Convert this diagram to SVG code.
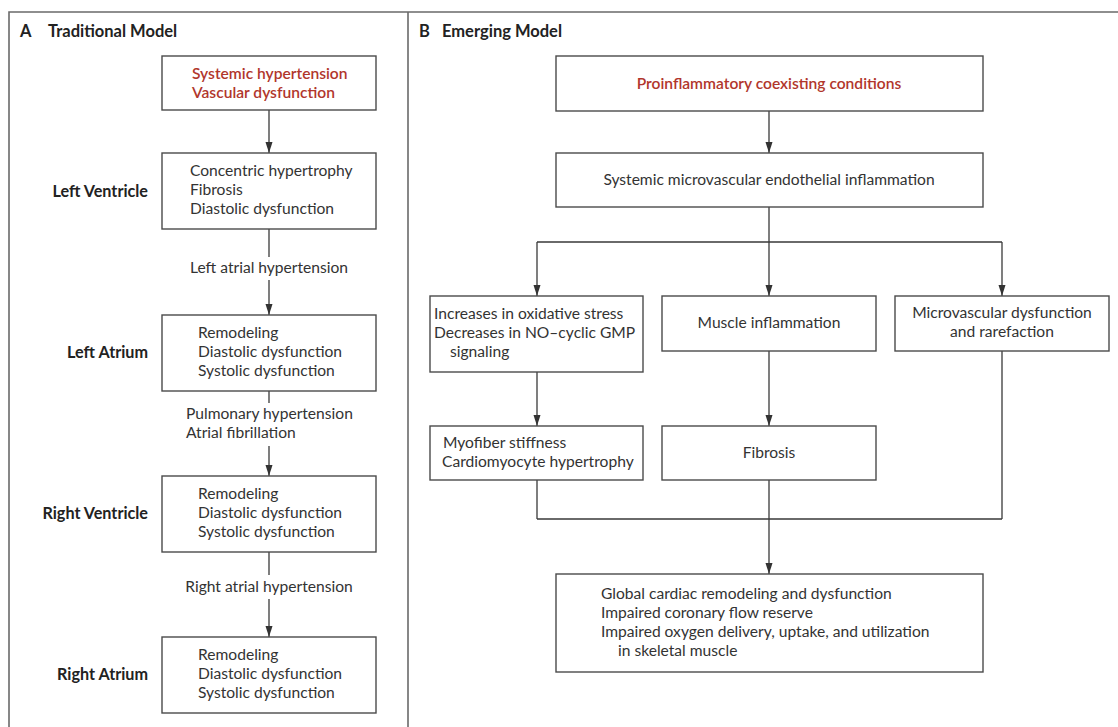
<svg xmlns="http://www.w3.org/2000/svg" width="1118" height="727" viewBox="0 0 1118 727">
<defs>
<marker id="ah" markerUnits="userSpaceOnUse" markerWidth="12" markerHeight="10" refX="11" refY="5" orient="auto" viewBox="0 0 12 10">
<path d="M0,1.5 L11,5 L0,8.5 Z" fill="#333"/>
</marker>
<style>
.frame{fill:none;stroke:#6a6a6a;stroke-width:1.6}
.box{fill:#fff;stroke:#4a4a4a;stroke-width:1.4}
.t{font-family:Lato,"Liberation Sans",sans-serif;font-size:15.6px;fill:#333}
.red{font-family:Lato,"Liberation Sans",sans-serif;font-size:15.6px;fill:#b1362c;font-weight:600}
.lab{font-family:Lato,"Liberation Sans",sans-serif;font-size:16.2px;fill:#222;font-weight:700}
.ttl{font-family:Lato,"Liberation Sans",sans-serif;font-size:16.5px;fill:#222;font-weight:700}
.c{text-anchor:middle}
.r{text-anchor:end}
.ln{fill:none;stroke:#3a3a3a;stroke-width:1.3}
.ar{fill:none;stroke:#3a3a3a;stroke-width:1.3;marker-end:url(#ah)}
</style>
</defs>
<rect width="1118" height="727" fill="#fff"/>
<g id="frame">
<path class="frame" d="M9,727 V12 H1118 M408,12 V727"/>
<text class="ttl" x="20" y="37">A</text>
<text class="ttl" x="48" y="37">Traditional Model</text>
<text class="ttl" x="419" y="37">B</text>
<text class="ttl" x="442" y="37">Emerging Model</text>
</g>
<g id="connectors">
<path class="ar" d="M269,110 V153"/>
<path class="ln" d="M269,229 V257"/>
<path class="ar" d="M269,280 V315"/>
<path class="ln" d="M269,391 V403"/>
<path class="ar" d="M269,446 V476"/>
<path class="ln" d="M269,552 V575"/>
<path class="ar" d="M269,599 V637"/>
<path class="ar" d="M769,111 V153"/>
<path class="ln" d="M769,207 V242 M537,242 H1002"/>
<path class="ar" d="M537,242 V296"/>
<path class="ar" d="M769,242 V296"/>
<path class="ar" d="M1002,242 V296"/>
<path class="ar" d="M537,372 V426"/>
<path class="ar" d="M769,351 V426"/>
<path class="ln" d="M537,480 V519 M769,480 V519 M1002,351 V519 M537,519 H1002"/>
<path class="ar" d="M769,519 V574"/>
<text class="t c" x="269" y="273">Left atrial hypertension</text>
<text class="t" x="186" y="419">Pulmonary hypertension</text>
<text class="t" x="186" y="438">Atrial fibrillation</text>
<text class="t c" x="269" y="592">Right atrial hypertension</text>
</g>
<g id="a-top">
<rect class="box" x="162" y="56" width="214" height="54"/>
<text class="red" x="192" y="79">Systemic hypertension</text>
<text class="red" x="192" y="98">Vascular dysfunction</text>
</g>
<g id="a-lv">
<text class="lab r" x="148" y="197">Left Ventricle</text>
<rect class="box" x="162" y="153" width="214" height="76"/>
<text class="t" x="190" y="176">Concentric hypertrophy</text>
<text class="t" x="190" y="195">Fibrosis</text>
<text class="t" x="190" y="214">Diastolic dysfunction</text>
</g>
<g id="a-la">
<text class="lab r" x="148" y="358">Left Atrium</text>
<rect class="box" x="162" y="315" width="214" height="76"/>
<text class="t" x="198" y="338">Remodeling</text>
<text class="t" x="198" y="357">Diastolic dysfunction</text>
<text class="t" x="198" y="376">Systolic dysfunction</text>
</g>
<g id="a-rv">
<text class="lab r" x="148" y="519">Right Ventricle</text>
<rect class="box" x="162" y="476" width="214" height="76"/>
<text class="t" x="198" y="499">Remodeling</text>
<text class="t" x="198" y="518">Diastolic dysfunction</text>
<text class="t" x="198" y="537">Systolic dysfunction</text>
</g>
<g id="a-ra">
<text class="lab r" x="148" y="680">Right Atrium</text>
<rect class="box" x="162" y="637" width="214" height="76"/>
<text class="t" x="198" y="660">Remodeling</text>
<text class="t" x="198" y="679">Diastolic dysfunction</text>
<text class="t" x="198" y="698">Systolic dysfunction</text>
</g>
<g id="b-pro">
<rect class="box" x="556" y="56" width="427" height="55"/>
<text class="red c" x="769" y="89">Proinflammatory coexisting conditions</text>
</g>
<g id="b-sys">
<rect class="box" x="556" y="153" width="427" height="54"/>
<text class="t c" x="769" y="185">Systemic microvascular endothelial inflammation</text>
</g>
<g id="b-ox">
<rect class="box" x="430" y="296" width="213" height="76"/>
<text class="t" x="434" y="319">Increases in oxidative stress</text>
<text class="t" x="434" y="338">Decreases in NO–cyclic GMP</text>
<text class="t" x="450" y="357">signaling</text>
</g>
<g id="b-mi">
<rect class="box" x="662" y="296" width="214" height="55"/>
<text class="t c" x="769" y="328">Muscle inflammation</text>
</g>
<g id="b-mv">
<rect class="box" x="895" y="296" width="214" height="55"/>
<text class="t c" x="1002" y="318">Microvascular dysfunction</text>
<text class="t c" x="1002" y="337">and rarefaction</text>
</g>
<g id="b-my">
<rect class="box" x="430" y="426" width="213" height="54"/>
<text class="t" x="443" y="448">Myofiber stiffness</text>
<text class="t" x="442" y="467">Cardiomyocyte hypertrophy</text>
</g>
<g id="b-fib">
<rect class="box" x="662" y="426" width="214" height="54"/>
<text class="t c" x="769" y="458">Fibrosis</text>
</g>
<g id="b-glob">
<rect class="box" x="556" y="574" width="427" height="98"/>
<text class="t" x="601" y="599">Global cardiac remodeling and dysfunction</text>
<text class="t" x="601" y="618">Impaired coronary flow reserve</text>
<text class="t" x="601" y="637">Impaired oxygen delivery, uptake, and utilization</text>
<text class="t" x="618" y="656">in skeletal muscle</text>
</g>
</svg>
